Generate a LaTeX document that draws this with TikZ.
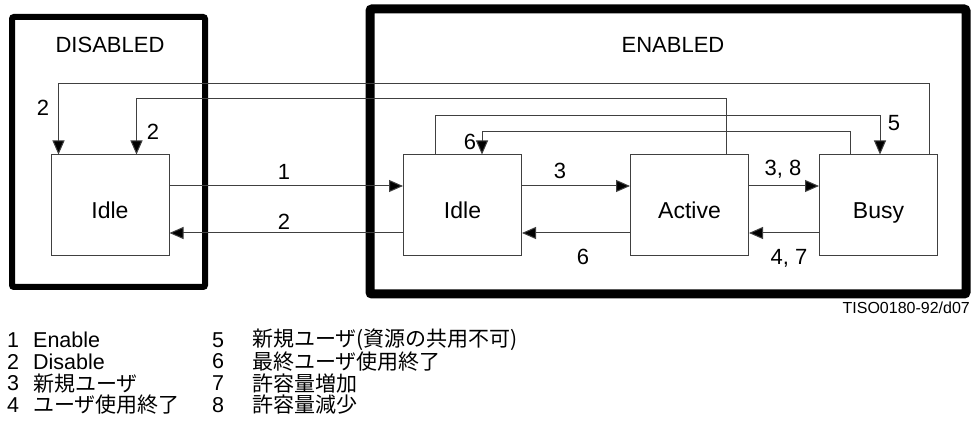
\documentclass[tikz,border=0pt]{standalone}
\usepackage{fontspec}
\setmainfont{Liberation Sans}
\newfontfamily\jp{Noto Sans CJK JP}
\usetikzlibrary{arrows.meta}
\begin{document}
\begin{tikzpicture}[x=1pt,y=-1pt,
  state/.style={draw=black!75, line width=1pt, minimum width=118pt, minimum height=101pt, inner sep=0pt, text height=27pt, text depth=0pt, font=\fontsize{23}{27}\selectfont},
  conn/.style={draw=black!75, line width=1pt},
  arr/.style={conn, -{Triangle[length=14pt,width=12pt,fill=black]}},
  lbl/.style={font=\fontsize{22}{26}\selectfont, inner sep=0pt},
  title/.style={font=\fontsize{22}{26}\selectfont, inner sep=0pt},
  leg/.style={font=\fontsize{21.5}{25}\selectfont, inner sep=0pt, anchor=west},
  legjp/.style={font=\fontsize{21}{25}\jp, inner sep=0pt, anchor=west},
]
\useasboundingbox (0,0) rectangle (977,430);

% group boxes
\node[draw, line width=6pt, rounded corners=2pt, minimum width=193pt, minimum height=270pt, inner sep=0pt] (disabled) at (108.5,152) {};
\node[draw, line width=9pt, rounded corners=2pt, minimum width=596pt, minimum height=285pt, inner sep=0pt] (enabled) at (668,151.5) {};
\node[title] (tdis) at (110,45) {DISABLED};
\node[title] (tena) at (673,45) {ENABLED};

% states
\node[state] (didle) at (110,205.5) {Idle};
\node[state] (eidle) at (462.5,205.5) {Idle};
\node[state] (active) at (689.5,205.5) {Active};
\node[state] (busy) at (878.5,205.5) {Busy};

% levels
\coordinate (hA) at (0,84);
\coordinate (hB) at (0,99);
\coordinate (hC) at (0,116);
\coordinate (hD) at (0,132);
\coordinate (hR) at (0,186);
\coordinate (hL) at (0,233);

% top routes
\coordinate (bs1) at ([xshift=-9pt]busy.north east);
\coordinate (di1) at ([xshift=8pt]didle.north west);
\draw[arr] (bs1) -- (bs1 |- hA) -| (di1);
\coordinate (ac1) at ([xshift=-23pt]active.north east);
\coordinate (di2) at ([xshift=86pt]didle.north west);
\draw[arr] (ac1) -- (ac1 |- hB) -| (di2);
\coordinate (ei1) at ([xshift=32pt]eidle.north west);
\coordinate (bs2) at ([xshift=61pt]busy.north west);
\draw[arr] (ei1) -- (ei1 |- hC) -| (bs2);
\coordinate (bs3) at ([xshift=31pt]busy.north west);
\coordinate (ei2) at ([xshift=79pt]eidle.north west);
\draw[arr] (bs3) -- (bs3 |- hD) -| (ei2);

% horizontal
\draw[arr] (didle.east |- hR) -- (eidle.west |- hR);
\draw[arr] (eidle.west |- hL) -- (didle.east |- hL);
\draw[arr] (eidle.east |- hR) -- (active.west |- hR);
\draw[arr] (active.west |- hL) -- (eidle.east |- hL);
\draw[arr] (active.east |- hR) -- (busy.west |- hR);
\draw[arr] (busy.west |- hL) -- (active.east |- hL);

% labels
\node[lbl] (l2a) at (43,108) {2};
\node[lbl] (l2b) at (153,132) {2};
\node[lbl] (l5) at (894,123) {5};
\node[lbl] (l6a) at (470,142) {6};
\node[lbl] (l1) at (284,172) {1};
\node[lbl] (l2c) at (284,222) {2};
\node[lbl] (l3) at (560,171) {3};
\node[lbl] (l6b) at (583,257) {6};
\node[lbl] (l38) at (783,169) {3, 8};
\node[lbl] (l47) at (789,258) {4, 7};

\node[font=\fontsize{16}{19}\selectfont, anchor=east, inner sep=0pt] (tiso) at (970,308) {TISO0180-92/d07};

% legend
\node[leg] (n1) at (7,340) {1};
\node[leg] (t1) at (33,340) {Enable};
\node[leg] (n2) at (7,361.5) {2};
\node[leg] (t2) at (33,361.5) {Disable};
\node[leg] (n3) at (7,383.5) {3};
\node[legjp] (t3) at (33,383.5) {新規ユーザ};
\node[leg] (n4) at (7,405) {4};
\node[legjp] (t4) at (33,405) {ユーザ使用終了};
\node[leg] (n5) at (212,340) {5};
\node[legjp] (t5) at (252,340) {新規ユーザ(資源の共用不可)};
\node[leg] (n6) at (212,361.5) {6};
\node[legjp] (t6) at (252,361.5) {最終ユーザ使用終了};
\node[leg] (n7) at (212,383.5) {7};
\node[legjp] (t7) at (252,383.5) {許容量増加};
\node[leg] (n8) at (212,405) {8};
\node[legjp] (t8) at (252,405) {許容量減少};
\end{tikzpicture}
\end{document}
